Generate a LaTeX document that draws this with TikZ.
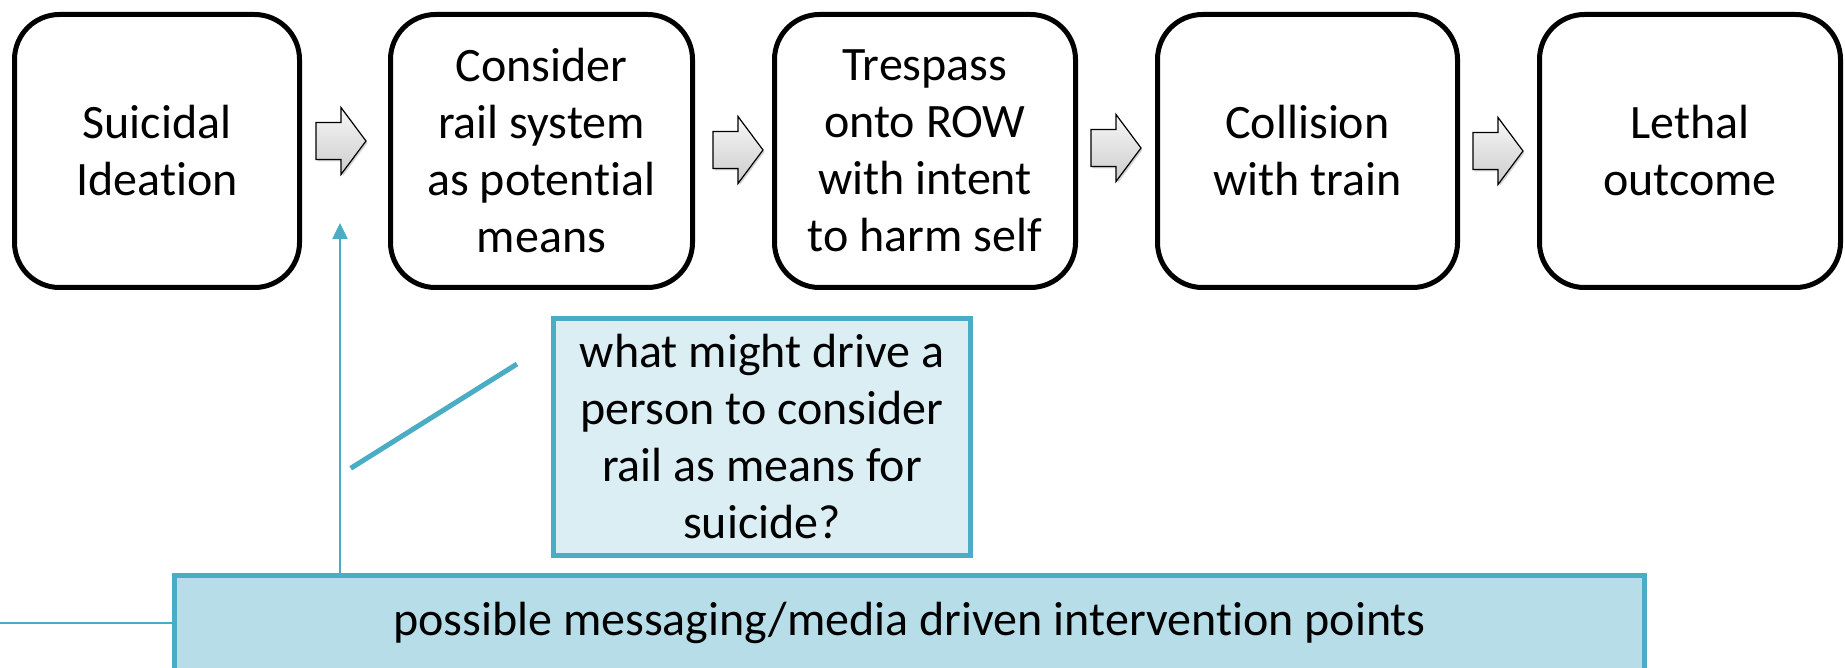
\documentclass[tikz,border=0pt]{standalone}
\usepackage{fontspec}
\setmainfont{Carlito}[Ligatures=NoCommon]
\usetikzlibrary{arrows.meta,shadows}
\definecolor{aqua}{HTML}{4BACC6}
\definecolor{paleaqua}{HTML}{DBEEF3}
\definecolor{midaqua}{HTML}{B7DDE8}
\begin{document}
\begin{tikzpicture}[x=1pt,y=-1pt,
  bigtext/.style={font=\fontsize{48}{57}\selectfont},
  stage/.style={bigtext, draw=black, line width=5pt, rounded corners=45pt,
    fill=white, align=center, inner sep=0pt, minimum height=273pt},
  question/.style={bigtext, draw=aqua, line width=5pt, fill=paleaqua,
    align=center, inner sep=0pt, minimum width=417pt, minimum height=237pt},
  banner/.style={bigtext, draw=aqua, line width=5pt, fill=midaqua,
    inner sep=0pt, minimum width=1470pt, minimum height=94.5pt},
  link/.style={draw=aqua, line width=2.5pt},
  blockarrow/.pic={
    \path[draw=black, line width=1.2pt, line join=miter,
          top color=gray!6, bottom color=gray!40,
          drop shadow={opacity=0.35, shadow xshift=1.5pt, shadow yshift=-2pt}]
      (0,-18.5) -- (25,-18.5) -- (25,-33.5) -- (50,0) -- (25,33.5)
      -- (25,18.5) -- (0,18.5) -- cycle;
  }
]
\useasboundingbox (0,0) rectangle (1845,668);

% process stages
\node[stage, minimum width=285pt] (ideation) at (157,151) {Suicidal\\Ideation};
\node[stage, minimum width=302pt] (consider) at (541.5,151) {Consider\\rail system\\as potential\\means};
\node[stage, minimum width=301pt] (trespass) at (925,151) {Trespass\\onto ROW\\with intent\\to harm self};
\node[stage, minimum width=300pt] (collision) at (1307.5,151) {Collision\\with train};
\node[stage, minimum width=301pt] (lethal) at (1690,151) {Lethal\\outcome};

% block arrows between stages
\pic (a1) at (316,141) {blockarrow};
\pic (a2) at (713,150) {blockarrow};
\pic (a3) at (1091,148) {blockarrow};
\pic (a4) at (1473,151) {blockarrow};

% question callout
\node[question] (question) at (762,437)
  {what might drive a\\person to consider\\rail as means for\\suicide?};

% intervention banner
\node[banner] (banner) at (909.5,622.75) {possible messaging/media driven intervention points};

% connectors
\coordinate (uptip) at (340,223);
\coordinate (lend) at (0,622.75);
\coordinate (slantlow) at (350.7,468.3);
\coordinate (slanthigh) at (517,364);
\draw[link, -{Triangle[width=15pt,length=16pt]}] (uptip |- banner.north) -- (uptip);
\draw[link] (banner.west) -- (lend);
\draw[draw=aqua, line width=5pt] (slantlow) -- (slanthigh);
\end{tikzpicture}
\end{document}
